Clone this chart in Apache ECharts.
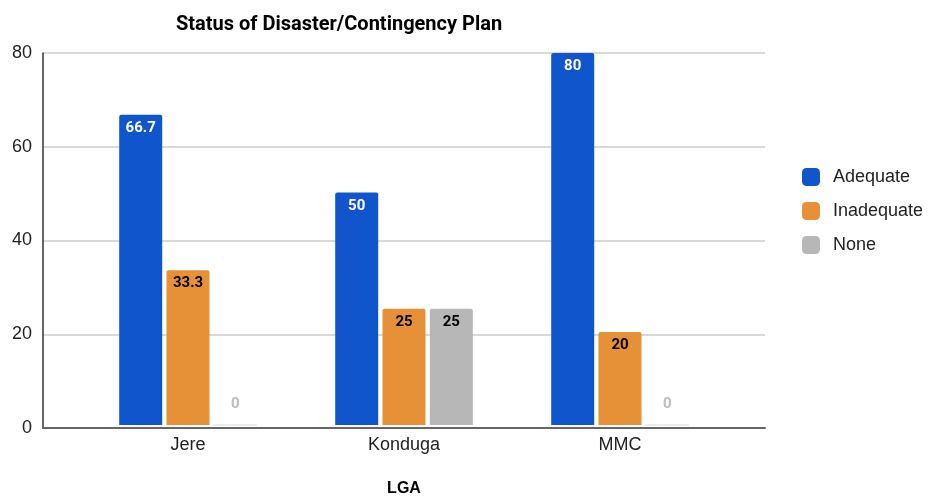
<!DOCTYPE html>
<html><head><meta charset="utf-8">
<script src="https://cdn.jsdelivr.net/npm/echarts@6/dist/echarts.min.js"></script>
<style>html,body{margin:0;padding:0;background:#fff}#c{width:929px;height:502px}</style>
</head><body><div id="c"></div>
<script>
const categories = ['Jere', 'Konduga', 'MMC'];
const adequate = [66.7, 50, 80];
const inadequate = [33.3, 25, 20];
const none = [0, 25, 0];
const yTicks = [0, 20, 40, 60, 80];
const seriesNames = ['Adequate', 'Inadequate', 'None'];
const colors = ['#1155CC', '#E69138', '#B7B7B7'];

const chart = echarts.init(document.getElementById('c'));
function mkData(vals, labelColor) {
  return vals.map(v => v === 0
    ? {value: v, label: {position: 'top', distance: 13, color: '#BDBDBD'},
       itemStyle: {borderWidth: 1, borderType: 'dotted', borderColor: '#D8D8D8'}}
    : {value: v, label: {color: labelColor}});
}
function mkSeries(name, vals, color, labelColor) {
  return {
    name: name, type: 'bar', xAxisIndex: 0, yAxisIndex: 0,
    data: mkData(vals, labelColor),
    barWidth: 43, barGap: '10%',
    itemStyle: {color: color, borderRadius: [2, 2, 0, 0]},
    label: {show: true, position: 'insideTop', distance: 6, fontFamily: 'Roboto', fontWeight: 'bold', fontSize: 15},
    emphasis: {disabled: true}
  };
}
chart.setOption({
  animation: false,
  backgroundColor: '#fff',
  title: {text: 'Status of Disaster/Contingency Plan', left: 171, top: 10,
    textStyle: {fontFamily: 'Roboto', fontWeight: 'bold', fontSize: 20, color: '#000'}},
  legend: {orient: 'vertical', left: 797, top: 163, itemWidth: 18, itemHeight: 18, itemGap: 16,
    icon: 'roundRect', data: seriesNames,
    textStyle: {fontFamily: 'Liberation Sans', fontSize: 18, color: '#222', padding: [0, 0, 0, 8]}},
  grid: [
    {left: 80, right: 201, top: 53, bottom: 74},
    {left: 43, right: 164, top: 53, bottom: 74}
  ],
  xAxis: [
    {type: 'category', gridIndex: 0, data: categories,
     axisLine: {show: false}, axisTick: {show: false},
     axisLabel: {fontFamily: 'Liberation Sans', fontSize: 18, color: '#222', margin: 11},
     name: 'LGA', nameLocation: 'middle', nameGap: 56,
     nameTextStyle: {fontFamily: 'Liberation Sans', fontWeight: 'bold', fontSize: 16, color: '#000'}},
    {type: 'category', gridIndex: 1, data: categories,
     axisLine: {show: true, lineStyle: {color: '#666', width: 2}},
     axisTick: {show: false}, axisLabel: {show: false}}
  ],
  yAxis: [
    {type: 'value', gridIndex: 0, min: yTicks[0], max: yTicks[yTicks.length-1], interval: 20,
     axisLine: {show: false}, axisTick: {show: false}, axisLabel: {show: false}, splitLine: {show: false}},
    {type: 'value', gridIndex: 1, min: yTicks[0], max: yTicks[yTicks.length-1], interval: 20,
     axisLine: {show: true, lineStyle: {color: '#333', width: 1.5}}, axisTick: {show: false},
     axisLabel: {fontFamily: 'Liberation Sans', fontSize: 18, color: '#222', margin: 11},
     splitLine: {show: true, lineStyle: {color: '#CCCCCC', width: 1.5}}}
  ],
  series: [
    mkSeries(seriesNames[0], adequate, colors[0], '#FFFFFF'),
    mkSeries(seriesNames[1], inadequate, colors[1], '#000000'),
    mkSeries(seriesNames[2], none, colors[2], '#000000')
  ]
});
</script></body></html>
